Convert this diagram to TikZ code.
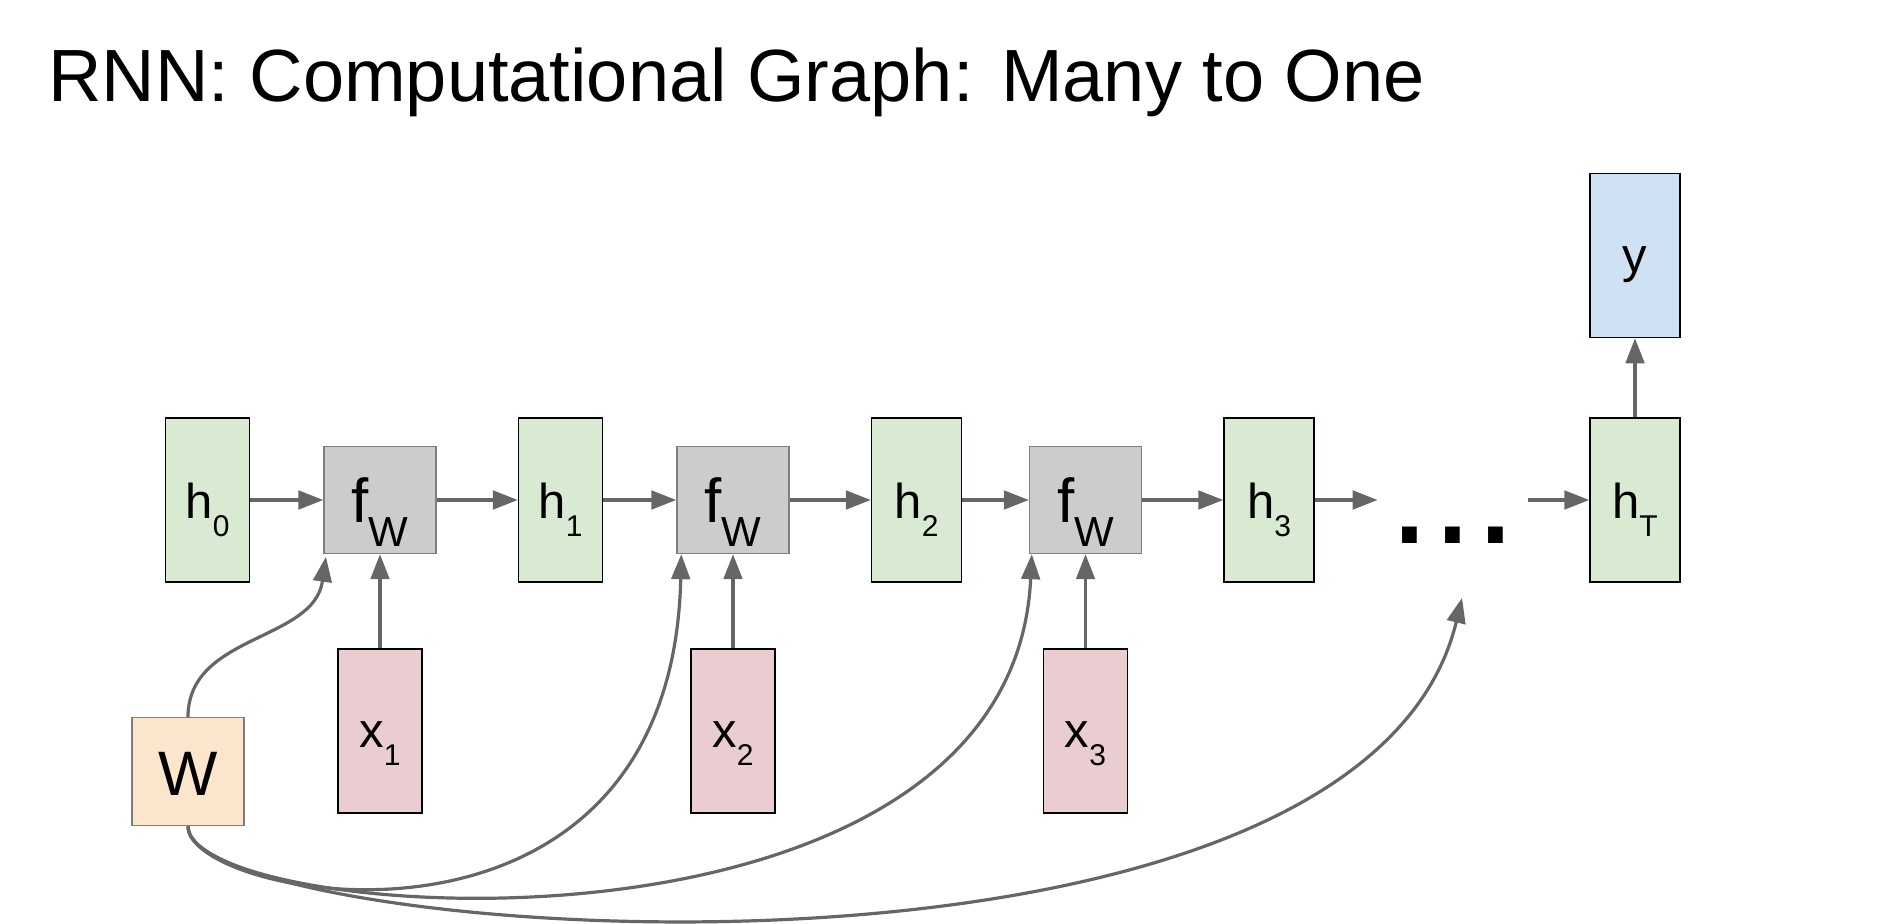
\documentclass[tikz,border=0pt]{standalone}
\usepackage{fontspec}
\setmainfont{Liberation Sans}
\usetikzlibrary{positioning}
\usetikzlibrary{arrows.meta}
\usepackage{xcolor}

\definecolor{hgreen}{HTML}{D9EAD3}
\definecolor{fgray}{HTML}{CCCCCC}
\definecolor{xpink}{HTML}{EACDD1}
\definecolor{wtan}{HTML}{FCE5CD}
\definecolor{yblue}{HTML}{CFE2F3}
\definecolor{linkgray}{HTML}{666666}
\definecolor{framegray}{HTML}{7F7F7F}
\newcommand{\subsmall}[1]{\raisebox{-9pt}{\fontsize{15}{18}\selectfont #1}}

\begin{document}
\begin{tikzpicture}[x=0.5pt, y=-0.5pt,
		% Style definitions for the unrolled graph
		hbox/.style={draw, fill=hgreen, line width=0.7pt, minimum width=42pt, minimum height=82pt, inner sep=0pt, font=\fontsize{24.5}{29}\selectfont, text height=18.3pt, text depth=0pt},
		fbox/.style={draw=framegray, fill=fgray, line width=0.7pt, minimum width=56pt, minimum height=53.5pt, inner sep=0pt, font=\fontsize{31}{36}\selectfont, text height=22.7pt, text depth=0pt},
		xbox/.style={draw, fill=xpink, line width=0.7pt, minimum width=42pt, minimum height=82pt, inner sep=0pt, font=\fontsize{24.5}{29}\selectfont, text height=16.7pt, text depth=0pt},
		wbox/.style={draw=framegray, fill=wtan, line width=0.7pt, minimum width=56pt, minimum height=54pt, inner sep=0pt, font=\fontsize{31.4}{36}\selectfont, text height=23.3pt, text depth=0pt},
		ybox/.style={draw, fill=yblue, line width=0.7pt, minimum width=45pt, minimum height=82pt, inner sep=0pt, font=\fontsize{24.5}{29}\selectfont, text height=16.7pt, text depth=0pt},
		link/.style={-{Triangle[length=12.5pt, width=9.3pt]}, line width=1.6pt, draw=linkgray},
		]
		\useasboundingbox (0,0) rectangle (1883,924);

		% === Title ===
		\node[anchor=base west, inner sep=0pt, font=\fontsize{37}{44}\selectfont] (title) at (48,102) {RNN: Computational Graph: Many to One};

		% === Hidden states and f_W cells (one row) ===
		\node[hbox] (h0) at (207.5,500) {h\subsmall{0}};
		\node[fbox] (f1) at (380,500) {f\raisebox{-11.8pt}{\fontsize{21}{25}\selectfont W}\hspace{9.2pt}};
		\node[hbox] (h1) at (560.5,500) {h\subsmall{1}};
		\node[fbox] (f2) at (733,500) {f\raisebox{-11.8pt}{\fontsize{21}{25}\selectfont W}\hspace{9.2pt}};
		\node[hbox, minimum width=45pt] (h2) at (916.5,500) {h\subsmall{2}};
		\node[fbox] (f3) at (1085.5,500) {f\raisebox{-11.8pt}{\fontsize{21}{25}\selectfont W}\hspace{9.2pt}};
		\node[hbox, minimum width=45pt] (h3) at (1269,500) {h\subsmall{3}};
		\node[anchor=base, inner sep=0pt, minimum width=75pt, font=\fontsize{77}{80}\selectfont] (dots) at (1453,544) {...};
		\node[hbox, minimum width=45pt] (hT) at (1635,500) {h\subsmall{T}};

		% === Inputs below each cell ===
		\node[xbox, below=47pt of f1] (x1) {x\subsmall{1}};
		\node[xbox, below=47pt of f2] (x2) {x\subsmall{2}};
		\node[xbox, below=47pt of f3] (x3) {x\subsmall{3}};

		% === Shared weights and output ===
		\node[wbox] (w) at (188,771.7) {W\hspace{7pt}};
		\node[ybox, above=39.5pt of hT] (yout) {y};
		\coordinate (dotsin) at ([xshift=4.5pt, yshift=-27pt]dots.base);

		% === Recurrence arrows ===
		\draw[link] (h0) -- (f1);
		\draw[link] (f1) -- (h1);
		\draw[link] (h1) -- (f2);
		\draw[link] (f2) -- (h2);
		\draw[link] (h2) -- (f3);
		\draw[link] (f3) -- (h3);
		\draw[link] (h3.east) -- (h3.east -| dots.west);
		\draw[link] (dots.east |- hT.west) -- (hT.west);
		\draw[link] (hT) -- (yout);

		% === Input arrows ===
		\draw[link] (x1) -- (f1);
		\draw[link] (x2) -- (f2);
		\draw[link] (x3) -- (f3);

		% === W fed to every step ===
		\draw[link] (w.north) .. controls +(0,-83) and +(-12,85) .. ([xshift=1.3pt, yshift=-1.3pt]f1.south west);
		\draw[link] (w.south) .. controls +(0,74) and +(-10,436) .. ([xshift=2.5pt]f2.south west);
		\draw[link] (w.south) .. controls +(0,98) and +(-20,430) .. ([xshift=1.5pt]f3.south west);
		\draw[link] (w.south) .. controls +(0,113) and +(-104,432) .. (dotsin);

	\end{tikzpicture}
\end{document}
